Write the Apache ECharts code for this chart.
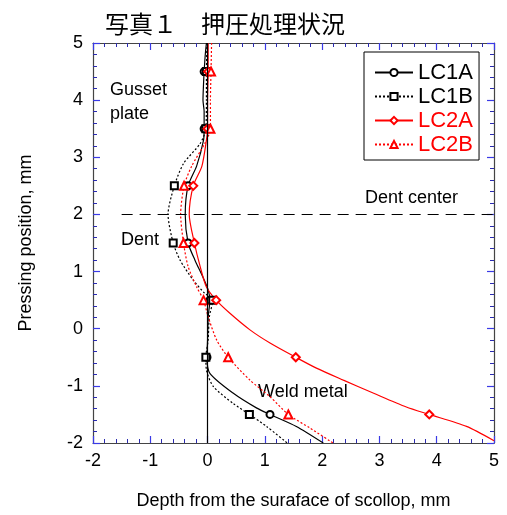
<!DOCTYPE html>
<html><head><meta charset="utf-8">
<script src="https://cdn.jsdelivr.net/npm/echarts@6/dist/echarts.min.js"></script>
<style>html,body{margin:0;padding:0;background:#fff}#c{width:507px;height:515px}</style>
</head><body><div id="c"></div>
<script>
// Data: [depth x (mm), pressing position y (mm)]
const seriesNames = ['LC1A', 'LC1B', 'LC2A', 'LC2B'];
const markerY = [4.5, 3.5, 2.5, 1.5, 0.5, -0.5, -1.5];
const lc1a = [[-0.02,5],[-0.04,4.8],[-0.06,4.5],[-0.07,4.3],[-0.08,4.0],[-0.06,3.8],[-0.06,3.5],[-0.07,3.3],[-0.19,2.85],[-0.34,2.5],[-0.39,2.0],[-0.34,1.5],[-0.22,1.2],[-0.08,0.9],[0.01,0.68],[0.04,0.5],[0.01,0.2],[0.0,-0.2],[-0.01,-0.5],[0.04,-0.78],[0.45,-1.13],[0.86,-1.39],[1.09,-1.5],[1.55,-1.71],[2.02,-2]];
const lc1b = [[-0.01,5],[-0.02,4.5],[-0.02,4.0],[-0.03,3.5],[-0.13,3.24],[-0.42,2.89],[-0.58,2.5],[-0.69,2.0],[-0.6,1.5],[-0.48,1.2],[-0.25,0.85],[-0.05,0.62],[0.09,0.5],[0.03,0.2],[0.01,-0.2],[-0.03,-0.5],[-0.02,-0.72],[0.1,-1.01],[0.45,-1.31],[0.73,-1.5],[1.03,-1.71],[1.39,-2]];
const lc2a = [[0.01,5],[0.01,4.5],[0.0,4.0],[0.0,3.5],[-0.02,3.3],[-0.1,2.84],[-0.25,2.5],[-0.32,2.0],[-0.23,1.5],[-0.13,1.09],[-0.02,0.73],[0.15,0.5],[0.39,0.27],[0.74,-0.02],[1.09,-0.25],[1.54,-0.5],[1.9,-0.69],[2.37,-0.9],[2.9,-1.13],[3.47,-1.37],[3.87,-1.5],[4.52,-1.71],[5.0,-1.96]];
const lc2b = [[0.07,5],[0.06,4.5],[0.05,4.0],[0.05,3.5],[-0.05,3.24],[-0.28,2.84],[-0.41,2.5],[-0.47,2.0],[-0.42,1.5],[-0.34,1.09],[-0.19,0.73],[-0.07,0.5],[0.01,0.21],[0.16,-0.2],[0.36,-0.5],[0.74,-0.9],[1.09,-1.19],[1.41,-1.5],[1.79,-1.74],[2.19,-2]];
const xTicks = [-2, -1, 0, 1, 2, 3, 4, 5];
const yTicks = [-2, -1, 0, 1, 2, 3, 4, 5];
const dentCenterY = 2;
const dentLineStartX = -1.5;

const FONT = '"Liberation Sans", Arial, sans-serif';
const chart = echarts.init(document.getElementById('c'), null, {renderer: 'canvas'});

function build(points, sym, size) {
  return points.map(p => markerY.indexOf(p[1]) >= 0
    ? {value: p, symbol: sym, symbolSize: size}
    : {value: p, symbol: 'none'});
}

const axisCommon = (pos) => ({
  type: 'value', position: pos, min: -2, max: 5, interval: 1,
  axisLine: {show: true, onZero: false, lineStyle: {color: '#444', width: 1.2}},
  axisTick: {show: true, inside: true, length: 7, lineStyle: {color: '#3a3ae6', width: 1.2}},
  minorTick: {show: true, splitNumber: 5, length: 4, lineStyle: {color: '#2a2ab0', width: 1}},
  splitLine: {show: false},
  axisLabel: {show: false}
});

const xBottom = Object.assign(axisCommon('bottom'), {
  axisLabel: {show: true, fontFamily: FONT, fontSize: 18, color: '#000', margin: 9,
    formatter: v => xTicks.indexOf(v) >= 0 ? String(v) : ''},
  name: 'Depth from the suraface of scollop, mm', nameLocation: 'middle', nameGap: 49,
  nameTextStyle: {fontFamily: FONT, fontSize: 18, color: '#000'}
});
const xTop = axisCommon('top');
const yLeft = Object.assign(axisCommon('left'), {
  axisLabel: {show: true, fontFamily: FONT, fontSize: 18, color: '#000', margin: 10,
    formatter: v => yTicks.indexOf(v) >= 0 ? String(v) : ''},
  name: 'Pressing position, mm', nameLocation: 'middle', nameGap: 58,
  nameTextStyle: {fontFamily: FONT, fontSize: 18, color: '#000'}
});
const yRight = axisCommon('right');

const lineCommon = {type: 'line', smooth: 0.25};

chart.setOption({
  animation: false,
  backgroundColor: '#fff',
  title: {text: '写真１　押圧処理状況', left: 100, top: 7,
    textStyle: {fontFamily: '"Noto Sans CJK JP"', fontSize: 24, fontWeight: 'normal', color: '#000'}},
  grid: {left: 93, right: 13, top: 43, bottom: 72},
  xAxis: [xBottom, xTop],
  yAxis: [yLeft, yRight],
  legend: {
    orient: 'vertical', left: 364, top: 52,
    itemWidth: 38, itemHeight: 9, itemGap: 1,
    padding: [9, 6, 4, 10],
    borderColor: '#000', borderWidth: 1, backgroundColor: '#fff',
    textStyle: {fontFamily: FONT, fontSize: 22, lineHeight: 23},
    data: [
      {name: 'LC1A', textStyle: {color: '#000'}},
      {name: 'LC1B', textStyle: {color: '#000'}},
      {name: 'LC2A', textStyle: {color: '#ff0000'}},
      {name: 'LC2B', textStyle: {color: '#ff0000'}}
    ]
  },
  series: [
    {
      name: '_ref', type: 'line', data: [], silent: true,
      markLine: {
        silent: true, symbol: 'none', label: {show: false},
        data: [
          {xAxis: 0, lineStyle: {color: '#000', width: 1.2, type: 'solid'}},
          [{coord: [dentLineStartX, dentCenterY], lineStyle: {color: '#000', width: 1.2, type: [11, 7]}},
           {coord: [5, dentCenterY]}]
        ]
      }
    },
    Object.assign({name: seriesNames[0], data: build(lc1a, 'emptyCircle', 7), symbol: 'emptyCircle', symbolSize: 7,
      color: '#000', lineStyle: {color: '#000', width: 1.2, type: 'solid'}, itemStyle: {color: '#000', borderWidth: 1}}, lineCommon),
    Object.assign({name: seriesNames[1], data: build(lc1b, 'emptyRect', 7), symbol: 'emptyRect', symbolSize: 7,
      color: '#000', lineStyle: {color: '#000', width: 1.2, type: [2, 2]}, itemStyle: {color: '#000', borderWidth: 1}}, lineCommon),
    Object.assign({name: seriesNames[2], data: build(lc2a, 'emptyDiamond', 8), symbol: 'emptyDiamond', symbolSize: 8,
      color: '#ff0000', lineStyle: {color: '#ff0000', width: 1.2, type: 'solid'}, itemStyle: {color: '#ff0000', borderWidth: 1}}, lineCommon),
    Object.assign({name: seriesNames[3], data: build(lc2b, 'emptyTriangle', 8), symbol: 'emptyTriangle', symbolSize: 8,
      color: '#ff0000', lineStyle: {color: '#ff0000', width: 1.2, type: [2, 2]}, itemStyle: {color: '#ff0000', borderWidth: 1}}, lineCommon)
  ],
  graphic: [
    {type: 'text', left: 110, top: 78, style: {text: 'Gusset\nplate', font: '18px ' + FONT, fill: '#000', lineHeight: 24}},
    {type: 'text', left: 121, top: 231, style: {text: 'Dent', font: '18px ' + FONT, fill: '#000'}},
    {type: 'text', left: 365, top: 189, style: {text: 'Dent center', font: '18px ' + FONT, fill: '#000'}},
    {type: 'text', left: 258, top: 383, style: {text: 'Weld metal', font: '18px ' + FONT, fill: '#000'}}
  ]
});
</script></body></html>
